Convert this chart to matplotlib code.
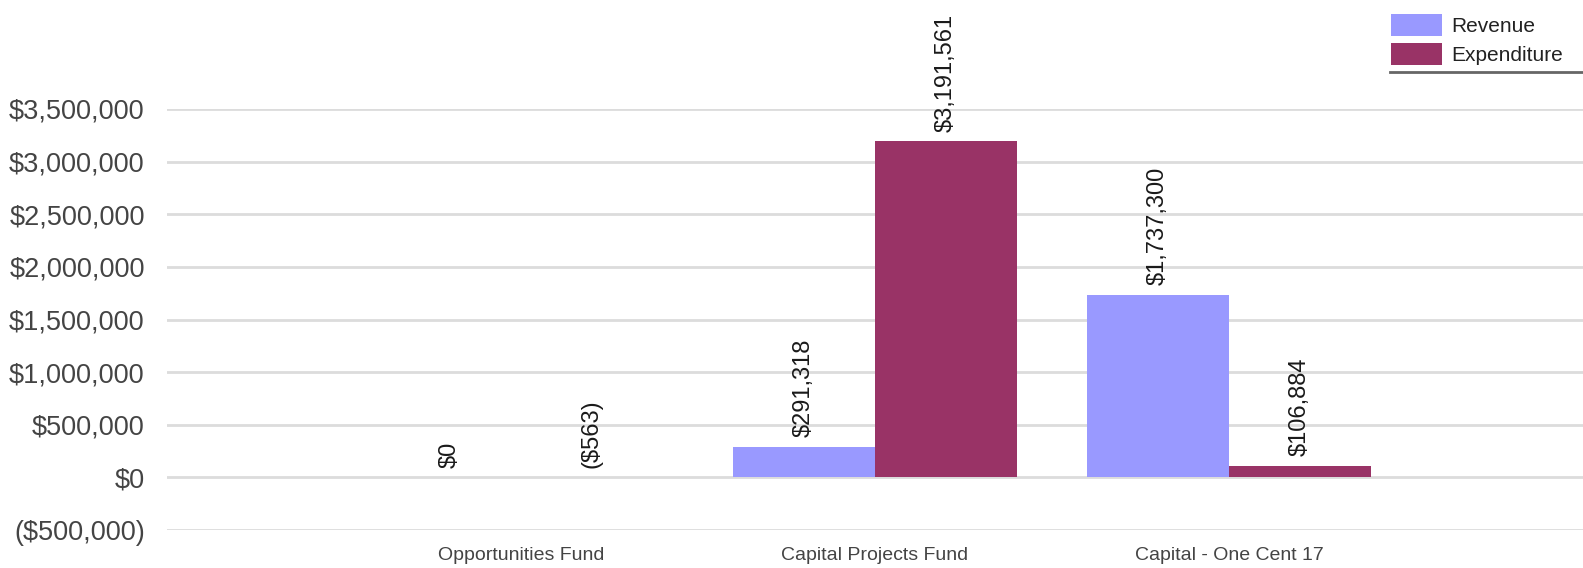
import matplotlib
matplotlib.use("Agg")
import matplotlib.pyplot as plt
from matplotlib.patches import Patch
from matplotlib.lines import Line2D
from matplotlib.ticker import FuncFormatter

plt.rcParams['font.family'] = ['Liberation Sans', 'DejaVu Sans']

categories = ["Opportunities Fund", "Capital Projects Fund", "Capital - One Cent 17"]
revenue = [0, 291318, 1737300]
expenditure = [-563, 3191561, 106884]
series_names = ["Revenue", "Expenditure"]
y_ticks = [-500000, 0, 500000, 1000000, 1500000, 2000000, 2500000, 3000000, 3500000]

REV_COLOR = "#9999ff"
EXP_COLOR = "#993366"
GRID_COLOR = "#dcdcdc"
TEXT_COLOR = "#444444"


def money(v):
    s = "${:,.0f}".format(abs(v))
    return "({})".format(s) if v < 0 else s


W, H = 1583, 568
fig = plt.figure(figsize=(W / 100, H / 100), dpi=100)
ax = fig.add_axes([167 / W, (H - 530) / H, (W - 167) / W, (530 - 109) / H])

x = list(range(len(categories)))
bw = 0.4
rev_bars = ax.bar([i - bw / 2 for i in x], revenue, width=bw, color=REV_COLOR, zorder=3)
exp_bars = ax.bar([i + bw / 2 for i in x], expenditure, width=bw, color=EXP_COLOR, zorder=3)

for bars, vals in ((rev_bars, revenue), (exp_bars, expenditure)):
    for b, v in zip(bars, vals):
        ax.annotate(money(v), xy=(b.get_x() + b.get_width() / 2, max(v, 0)),
                    xytext=(0, 7), textcoords="offset points", rotation=90,
                    ha="center", va="bottom", fontsize=17, color="#1a1a1a",
                    annotation_clip=False, zorder=4)

ax.set_xlim(-1, 3)
ax.set_ylim(-500000, 3500000)
ax.set_yticks(y_ticks)
ax.yaxis.set_major_formatter(FuncFormatter(lambda v, p: money(v)))
ax.set_xticks(x)
ax.set_xticklabels(categories)
ax.tick_params(axis="y", length=0, pad=16, labelsize=19.5, labelcolor=TEXT_COLOR)
ax.tick_params(axis="x", length=0, pad=12, labelsize=14, labelcolor=TEXT_COLOR)
ax.grid(axis="y", color=GRID_COLOR, linewidth=2, zorder=0)
for s in ax.spines.values():
    s.set_visible(False)

handles = [Patch(facecolor=REV_COLOR, edgecolor="none"),
           Patch(facecolor=EXP_COLOR, edgecolor="none")]
fig.legend(handles, series_names, loc="upper left", bbox_to_anchor=(1383 / W, 1 - 6 / H),
           frameon=False, fontsize=15, handlelength=2.45, handleheight=1.2,
           handletextpad=0.42, labelspacing=0.35, borderaxespad=0, labelcolor="#222222")
fig.add_artist(Line2D([1390 / W, 1.0], [1 - 72 / H, 1 - 72 / H], transform=fig.transFigure,
                      color="#666666", linewidth=2))

fig.savefig("out.png", dpi=100, facecolor="white")
